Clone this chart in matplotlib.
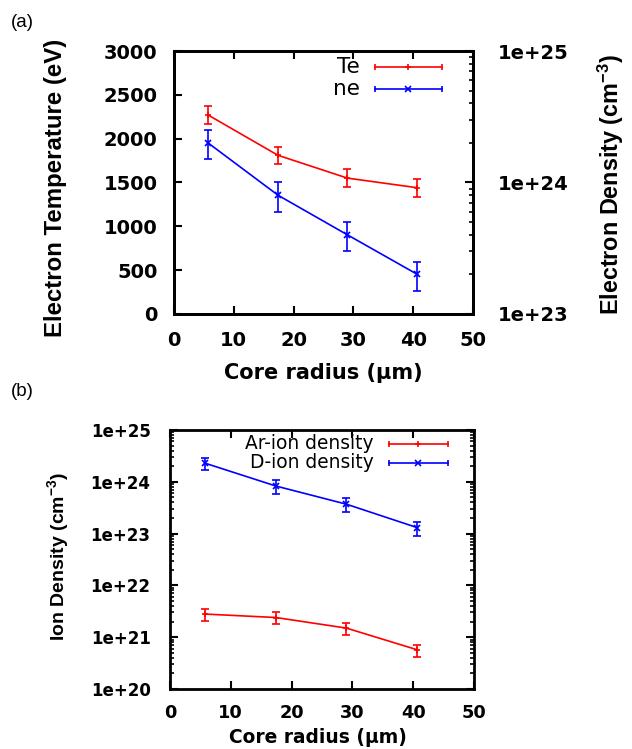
import matplotlib
matplotlib.use("Agg")
import matplotlib.pyplot as plt
from matplotlib.ticker import LogLocator, FixedLocator, NullFormatter

plt.rcParams["font.family"] = ["DejaVu Sans"]
plt.rcParams["mathtext.fontset"] = "custom"
plt.rcParams["mathtext.rm"] = "Liberation Sans"
plt.rcParams["mathtext.bf"] = "Liberation Sans:bold"

# core radius (um)
radius = [5.7, 17.4, 29.0, 40.7]

# (a) electron temperature / density
te = [2270, 1810, 1550, 1440]
te_err = [100, 100, 100, 100]
ne = [2.0e24, 8.0e23, 4.0e23, 2.0e23]
ne_err = [0.5e24, 2.0e23, 1.0e23, 0.5e23]

# (b) ion densities
ar = [2.8e21, 2.4e21, 1.5e21, 5.7e20]
ar_err = [0.7e21, 0.6e21, 0.38e21, 1.5e20]
d_ion = [2.3e24, 8.3e23, 3.7e23, 1.3e23]
d_err = [0.6e24, 2.5e23, 1.1e23, 0.4e23]

RED = "#FF0000"
BLUE = "#0000FF"
LW = 1.2
TICKFONT = "DejaVu Sans"      # wide bold, close to the stretched gnuplot text
VFONT = "Liberation Sans"     # vertical labels

fig = plt.figure(figsize=(6.32, 7.49), dpi=100)
fig.patch.set_facecolor("white")


def style_spines(ax):
    for s in ax.spines.values():
        s.set_linewidth(2.0)


def bold_ticks(labels, size):
    for lbl in labels:
        lbl.set_fontweight("bold")
        lbl.set_fontfamily(TICKFONT)
        lbl.set_fontsize(size)


def legend_key(ax, x0, x1, y, color, marker, label, fs):
    # gnuplot-style key: line with end caps and point in the middle
    ax.plot([x0, x1], [y, y], color=color, lw=LW, transform=ax.transAxes,
            clip_on=False)
    ax.plot([x0, x1], [y, y], ls="none", marker="|", ms=5, mew=LW,
            color=color, transform=ax.transAxes, clip_on=False)
    ax.plot([(x0 + x1) / 2], [y], ls="none", marker=marker, ms=5, mew=LW,
            color=color, transform=ax.transAxes, clip_on=False)
    ax.text(x0 - 0.05, y, label, ha="right", va="center", fontsize=fs,
            family="DejaVu Sans", transform=ax.transAxes)


# ---------------- (a) ----------------
ax = fig.add_axes([0.2753, 0.5808, 0.4731, 0.3511])
ax.errorbar(radius, te, yerr=te_err, color=RED, lw=LW, elinewidth=LW,
            capsize=3, capthick=LW, marker="+", ms=5, mew=LW)
ax.set_xlim(0, 50)
ax.set_ylim(0, 3000)
ax.set_xticks(range(0, 51, 10))
ax.set_yticks(range(0, 3001, 500))
ax.tick_params(axis="x", direction="in", top=True, length=6, width=1.5,
               pad=12)
ax.tick_params(axis="y", direction="in", right=False, length=6, width=1.5,
               pad=12)
bold_ticks(ax.get_xticklabels() + ax.get_yticklabels(), 14)
ax.set_xlabel("Core radius (\u03bcm)", fontsize=15, fontweight="bold",
              va="center")
ax.xaxis.set_label_coords(0.498, -0.224)
ax.set_ylabel("Electron Temperature (eV)", fontsize=17.3, fontweight="bold",
              family=VFONT, va="center")
ax.yaxis.set_label_coords(-0.395, 0.479)
style_spines(ax)

ax2 = ax.twinx()
ax2.set_yscale("log")
ax2.errorbar(radius, ne, yerr=ne_err, color=BLUE, lw=LW, elinewidth=LW,
             capsize=3, capthick=LW, marker="x", ms=5, mew=LW)
ax2.set_ylim(1e23, 1e25)
ax2.yaxis.set_major_locator(FixedLocator([1e23, 1e24, 1e25]))
ax2.set_yticklabels(["1e+23", "1e+24", "1e+25"])
bold_ticks(ax2.get_yticklabels(), 14)
ax2.yaxis.set_minor_locator(LogLocator(base=10, subs=range(2, 10)))
ax2.yaxis.set_minor_formatter(NullFormatter())
ax2.tick_params(axis="y", which="major", direction="in", length=6, width=1.5,
                pad=18)
ax2.tick_params(axis="y", which="minor", direction="in", length=3, width=1.2)
ax2.set_ylabel(r"Electron Density (cm$^{\mathbf{-3}}$)", fontsize=16.8,
               fontweight="bold", family=VFONT, rotation=90, va="center")
ax2.yaxis.set_label_coords(1.462, 0.49)
style_spines(ax2)

legend_key(ax, 0.672, 0.896, 0.939, RED, "+", "Te", 15.5)
legend_key(ax, 0.672, 0.896, 0.856, BLUE, "x", "ne", 15.5)

fig.text(0.017, 0.97, "(a)", fontsize=13.5, va="center", ha="left",
         family="Liberation Sans")

# ---------------- (b) ----------------
bx = fig.add_axes([0.269, 0.0801, 0.4810, 0.3458])
bx.set_yscale("log")
bx.errorbar(radius, ar, yerr=ar_err, color=RED, lw=LW, elinewidth=LW,
            capsize=3, capthick=LW, marker="+", ms=5, mew=LW)
bx.errorbar(radius, d_ion, yerr=d_err, color=BLUE, lw=LW, elinewidth=LW,
            capsize=3, capthick=LW, marker="x", ms=5, mew=LW)
bx.set_xlim(0, 50)
bx.set_ylim(1e20, 1e25)
bx.set_xticks(range(0, 51, 10))
bx.yaxis.set_major_locator(FixedLocator([10.0 ** k for k in range(20, 26)]))
bx.set_yticklabels(["1e+%d" % k for k in range(20, 26)])
bx.yaxis.set_minor_locator(LogLocator(base=10, subs=range(2, 10)))
bx.yaxis.set_minor_formatter(NullFormatter())
bx.tick_params(axis="x", direction="in", top=True, length=6, width=1.5,
               pad=11)
bx.tick_params(axis="y", which="major", direction="in", right=True, length=6,
               width=1.5, pad=14)
bx.tick_params(axis="y", which="minor", direction="in", right=True, length=3,
               width=1.2)
bold_ticks(bx.get_yticklabels(), 12)
bold_ticks(bx.get_xticklabels(), 12.8)
bx.set_xlabel("Core radius (\u03bcm)", fontsize=13.4, fontweight="bold",
              va="center")
bx.xaxis.set_label_coords(0.485, -0.189)
bx.set_ylabel(r"Ion Density (cm$^{\mathbf{-3}}$)", fontsize=14,
              fontweight="bold", family=VFONT, va="center")
bx.yaxis.set_label_coords(-0.365, 0.512)
style_spines(bx)

legend_key(bx, 0.719, 0.913, 0.947, RED, "+", "Ar-ion density", 13.4)
legend_key(bx, 0.719, 0.913, 0.874, BLUE, "x", "D-ion density", 13.4)

fig.text(0.017, 0.477, "(b)", fontsize=13.5, va="center", ha="left",
         family="Liberation Sans")

fig.savefig("out.png", dpi=100, facecolor="white")
